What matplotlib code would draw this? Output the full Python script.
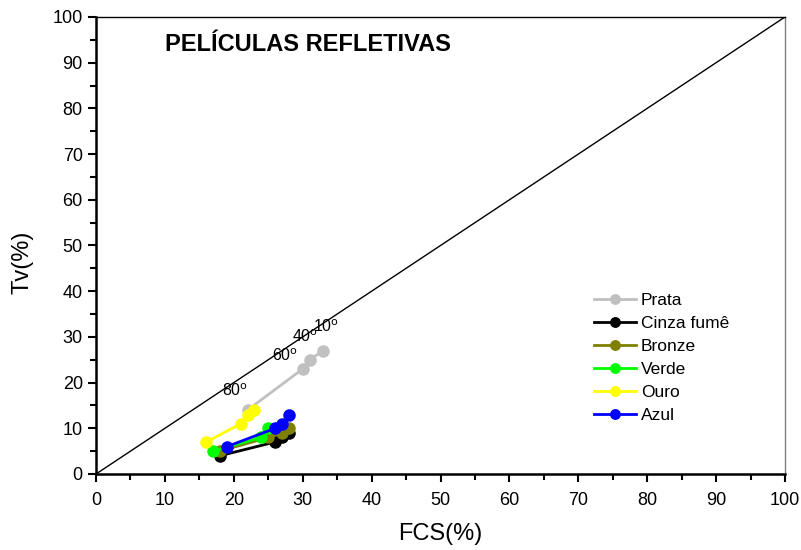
import numpy as np
import matplotlib
matplotlib.use("Agg")
import matplotlib.pyplot as plt
from matplotlib.ticker import MultipleLocator

plt.rcParams['font.family'] = ['Liberation Sans', 'DejaVu Sans']

# FCS (%) x Tv (%) for each film, angles 10, 40, 60, 80 degrees
prata_x = [33, 31, 30, 22]
prata_y = [27, 25, 23, 14]
cinza_x = [28, 27, 26, 18]
cinza_y = [9, 8, 7, 4]
bronze_x = [28, 27, 25, 18]
bronze_y = [10, 9, 8, 5]
verde_x = [25, 24, 17]
verde_y = [10, 8, 5]
ouro_x = [23, 22, 21, 16]
ouro_y = [14, 13, 11, 7]
azul_x = [28, 27, 26, 19]
azul_y = [13, 11, 10, 6]

series = [
    ("Prata", prata_x, prata_y, "#c0c0c0"),
    ("Cinza fumê", cinza_x, cinza_y, "black"),
    ("Bronze", bronze_x, bronze_y, "#808000"),
    ("Verde", verde_x, verde_y, "#00ff00"),
    ("Ouro", ouro_x, ouro_y, "#ffff00"),
    ("Azul", azul_x, azul_y, "#0000ff"),
]

angle_labels = ["10", "40", "60", "80"]
angle_pos = [(31.5, 30.5), (28.5, 28.3), (25.5, 24), (18.3, 16.5)]

fig = plt.figure(figsize=(8.01, 5.5), dpi=100)
ax = fig.add_axes([0.1199, 0.1382, 0.8601, 0.8309])

ax.plot([0, 100], [0, 100], color="black", lw=1)
for name, xs, ys, c in series:
    ax.plot(xs, ys, "-o", color=c, lw=2, ms=8, label=name)

for lab, (x, y) in zip(angle_labels, angle_pos):
    ax.text(x, y, lab + r"$^{\rm o}$", fontsize=11.5, ha="left", va="bottom")

ax.text(10, 94, "PELÍCULAS REFLETIVAS", fontsize=17, fontweight="bold",
        ha="left", va="center")

ax.set_xlim(0, 100)
ax.set_ylim(0, 100)
ax.xaxis.set_major_locator(MultipleLocator(10))
ax.xaxis.set_minor_locator(MultipleLocator(5))
ax.yaxis.set_major_locator(MultipleLocator(10))
ax.yaxis.set_minor_locator(MultipleLocator(5))
ax.tick_params(which="major", direction="out", length=6, width=1.5, labelsize=13)
ax.tick_params(axis="x", which="major", pad=7)
ax.tick_params(which="minor", direction="out", length=4, width=1.5)
ax.spines["left"].set_linewidth(1.8)
ax.spines["bottom"].set_linewidth(1.8)
ax.spines["top"].set_linewidth(1)
ax.spines["right"].set_linewidth(1)
ax.spines["right"].set_color("#808080")

ax.set_xlabel("FCS(%)", fontsize=17, labelpad=10)
ax.set_ylabel("Tv(%)", fontsize=17)
ax.yaxis.set_label_coords(-0.091, 0.464)

leg = ax.legend(loc="upper left", bbox_to_anchor=(0.7, 0.43), frameon=False,
                fontsize=12.5, handlelength=2.4, handletextpad=0.3,
                labelspacing=0.45, markerscale=0.85)

fig.savefig("out.png", dpi=100)
